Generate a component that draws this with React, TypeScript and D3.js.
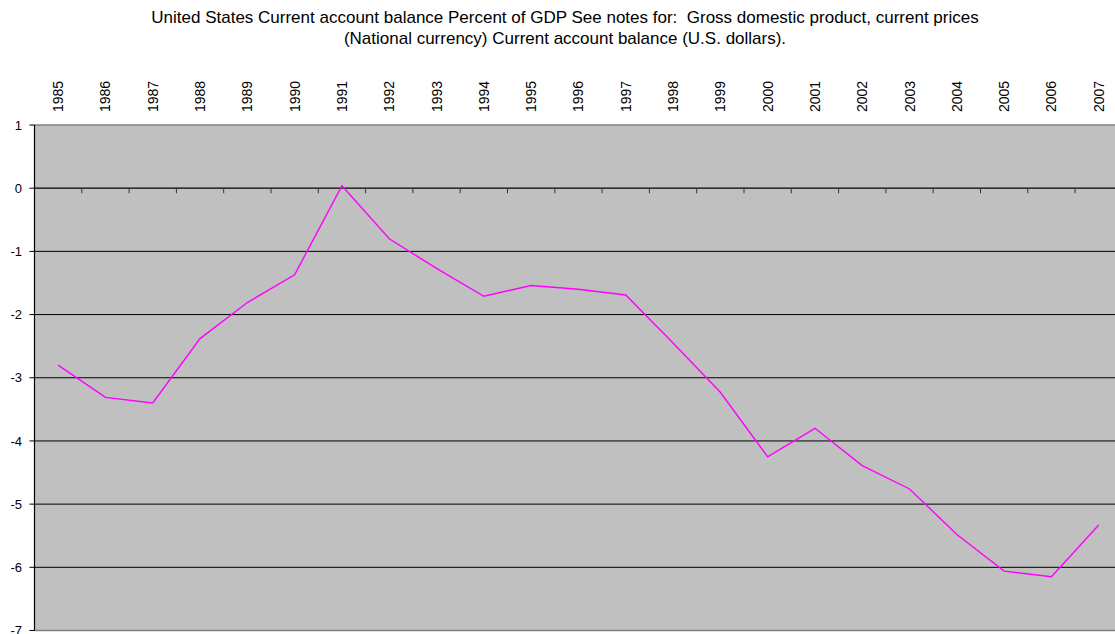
import React from "react";
import * as d3 from "d3";

const years: string[] = ["1985","1986","1987","1988","1989","1990","1991","1992","1993","1994","1995","1996","1997","1998","1999","2000","2001","2002","2003","2004","2005","2006","2007"];
const balance: number[] = [-2.80,-3.31,-3.40,-2.38,-1.81,-1.37,0.04,-0.80,-1.27,-1.71,-1.54,-1.60,-1.69,-2.45,-3.23,-4.25,-3.80,-4.39,-4.76,-5.48,-6.06,-6.15,-5.33];
const yTicks: number[] = [1,0,-1,-2,-3,-4,-5,-6,-7];
const titleLines: string[] = [
  "United States Current account balance Percent of GDP See notes for:  Gross domestic product, current prices",
  "(National currency) Current account balance (U.S. dollars).",
];

const W = 1115, H = 634;
const left = 34.5, top = 125, bottom = 630.5;
const step = 47.3;
const right = left + step * years.length;

export default function App() {
  const x = d3.scaleBand<string>().domain(years).range([left, right]).paddingInner(0).paddingOuter(0);
  const y = d3.scaleLinear().domain([-7, 1]).range([bottom, top]);
  const cx = (yr: string) => (x(yr) as number) + x.bandwidth() / 2;
  const line = d3.line<number>().x((_, i) => cx(years[i])).y((v) => y(v));
  const font = "Liberation Sans, Arial, sans-serif";
  return (
    <svg width={W} height={H} style={{ position: "absolute", left: 0, top: 0, display: "block" }} fontFamily={font}>
      <rect x={0} y={0} width={W} height={H} fill="#fff" />
      {titleLines.map((t, i) => (
        <text key={i} x={565} y={22.5 + i * 21.5} textAnchor="middle" fontSize={17} fill="#000" style={{ whiteSpace: "pre" }}>{t}</text>
      ))}
      <rect x={left} y={top} width={right - left} height={bottom - top} fill="#C0C0C0" />
      {yTicks.filter((v) => v !== 1 && v !== -7 && v !== 0).map((v) => (
        <line key={v} x1={left} x2={right} y1={y(v)} y2={y(v)} stroke="#000" strokeWidth={1} />
      ))}
      <line x1={left} x2={right} y1={y(1)} y2={y(1)} stroke="#808080" strokeWidth={1.5} />
      <line x1={left} x2={right} y1={y(-7)} y2={y(-7)} stroke="#808080" strokeWidth={1.5} />
      <line x1={left} x2={right} y1={y(0)} y2={y(0)} stroke="#000" strokeWidth={1.2} />
      {years.slice(1).map((yr) => (
        <line key={yr} x1={x(yr) as number} x2={x(yr) as number} y1={y(0)} y2={y(0) + 5} stroke="#333" strokeWidth={1} />
      ))}
      <line x1={left} x2={left} y1={top} y2={bottom} stroke="#000" strokeWidth={1.2} />
      {yTicks.map((v) => (
        <g key={v}>
          <line x1={left - 5} x2={left} y1={y(v)} y2={y(v)} stroke="#000" strokeWidth={1} />
          <text x={22} y={y(v)} dy="0.36em" textAnchor="end" fontSize={13} fill="#000">{v}</text>
        </g>
      ))}
      {years.map((yr) => (
        <text key={yr} transform={`translate(${cx(yr)},112) rotate(-90)`} textAnchor="start" dy="0.36em" fontSize={14} fill="#000">{yr}</text>
      ))}
      <path d={line(balance) as string} fill="none" stroke="#FF00FF" strokeWidth={1.4} />
    </svg>
  );
}
